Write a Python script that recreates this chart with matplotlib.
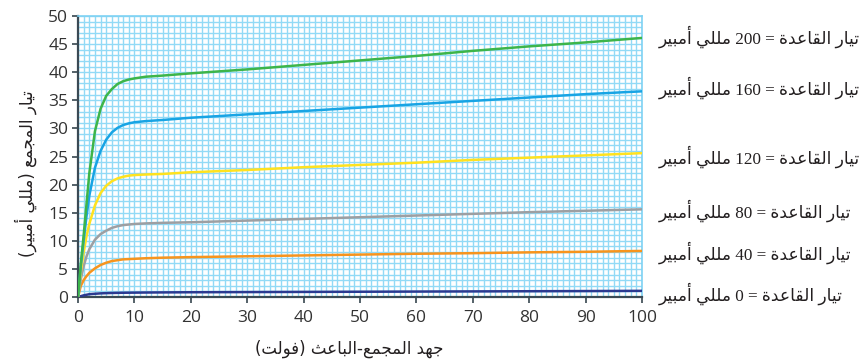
import matplotlib
matplotlib.use("Agg")
import matplotlib.pyplot as plt
import numpy as np

# Collector voltage (V) at which the curves were read
volts = [0, 0.5, 1, 1.5, 2, 3, 4, 5, 6, 7, 8, 9, 10, 12, 15, 20, 30, 40, 50, 60, 70, 80, 90, 100]

# Collector current (mA) for each base current
ic_0 = [0, 0.15, 0.3, 0.4, 0.5, 0.58, 0.65, 0.69, 0.72, 0.74, 0.76, 0.77, 0.78, 0.8, 0.82, 0.85, 0.88, 0.91, 0.94, 0.97, 1.0, 1.03, 1.06, 1.1]
ic_40 = [0, 2.0, 3.0, 3.7, 4.3, 5.1, 5.7, 6.1, 6.4, 6.55, 6.7, 6.75, 6.8, 6.9, 7.0, 7.1, 7.25, 7.4, 7.55, 7.7, 7.8, 7.95, 8.05, 8.2]
ic_80 = [0, 3.2, 5.5, 7.2, 8.5, 10.2, 11.2, 11.8, 12.3, 12.6, 12.8, 12.9, 13.0, 13.1, 13.2, 13.3, 13.6, 13.9, 14.2, 14.5, 14.8, 15.1, 15.35, 15.6]
ic_120 = [0, 4.5, 8.0, 10.8, 13.0, 16.3, 18.5, 19.8, 20.6, 21.1, 21.4, 21.6, 21.7, 21.8, 21.9, 22.2, 22.6, 23.1, 23.5, 23.9, 24.4, 24.8, 25.2, 25.6]
ic_160 = [0, 5.5, 10.0, 14.3, 18.0, 23.0, 26.0, 28.0, 29.3, 30.1, 30.6, 30.9, 31.1, 31.3, 31.5, 31.9, 32.5, 33.1, 33.7, 34.3, 34.9, 35.5, 36.1, 36.6]
ic_200 = [0, 6.0, 11.0, 16.5, 22.0, 29.5, 33.5, 35.8, 37.0, 37.9, 38.4, 38.7, 38.9, 39.2, 39.4, 39.8, 40.5, 41.3, 42.1, 42.9, 43.8, 44.6, 45.3, 46.1]

base_currents = ["0", "40", "80", "120", "160", "200"]
curves = [ic_0, ic_40, ic_80, ic_120, ic_160, ic_200]
colors = ["#2b3990", "#f7941d", "#9d9fa2", "#ffe21f", "#18a4e4", "#3db54a"]
label_y = [0.5, 7.8, 15.3, 25.0, 37.2, 46.3]

# --- minimal Arabic shaping (presentation forms B) ---
FORMS = {  # isolated, final, initial, medial
    "ا": ("\uFE8D", "\uFE8E", None, None),
    "أ": ("\uFE83", "\uFE84", None, None),
    "ب": ("\uFE8F", "\uFE90", "\uFE91", "\uFE92"),
    "ة": ("\uFE93", "\uFE94", None, None),
    "ت": ("\uFE95", "\uFE96", "\uFE97", "\uFE98"),
    "ث": ("\uFE99", "\uFE9A", "\uFE9B", "\uFE9C"),
    "ج": ("\uFE9D", "\uFE9E", "\uFE9F", "\uFEA0"),
    "د": ("\uFEA9", "\uFEAA", None, None),
    "ر": ("\uFEAD", "\uFEAE", None, None),
    "ع": ("\uFEC9", "\uFECA", "\uFECB", "\uFECC"),
    "ف": ("\uFED1", "\uFED2", "\uFED3", "\uFED4"),
    "ق": ("\uFED5", "\uFED6", "\uFED7", "\uFED8"),
    "ل": ("\uFEDD", "\uFEDE", "\uFEDF", "\uFEE0"),
    "م": ("\uFEE1", "\uFEE2", "\uFEE3", "\uFEE4"),
    "ه": ("\uFEE9", "\uFEEA", "\uFEEB", "\uFEEC"),
    "و": ("\uFEED", "\uFEEE", None, None),
    "ي": ("\uFEF1", "\uFEF2", "\uFEF3", "\uFEF4"),
}


def dual(c):
    return c in FORMS and FORMS[c][2] is not None


def shape(text):
    out = []
    for i, c in enumerate(text):
        if c not in FORMS:
            out.append(c)
            continue
        prev = text[i - 1] if i > 0 else ""
        nxt = text[i + 1] if i + 1 < len(text) else ""
        join_prev = dual(prev)
        join_next = dual(c) and nxt in FORMS
        iso, fin, ini, med = FORMS[c]
        if join_prev and join_next:
            out.append(med)
        elif join_prev:
            out.append(fin)
        elif join_next:
            out.append(ini)
        else:
            out.append(iso)
    return "".join(out)


def rtl(text):
    shaped = shape(text)
    runs, cur, digit = [], "", None
    for c in shaped:
        d = c.isdigit()
        if digit is None or d == digit:
            cur += c
        else:
            runs.append((cur, digit))
            cur = c
        digit = d
    runs.append((cur, digit))
    mirror = {"(": ")", ")": "("}
    vis = []
    for run, is_digit in reversed(runs):
        if is_digit:
            vis.append(run)
        else:
            vis.append("".join(mirror.get(c, c) for c in reversed(run)))
    return "".join(vis)


fig = plt.figure(figsize=(8.64, 3.64), dpi=100)
ax = fig.add_axes([0.0903, 0.184, 0.6528, 0.772])

for ic, col in zip(curves, colors):
    ax.plot(volts, ic, color=col, lw=1.8, solid_capstyle="round", zorder=3)

ax.set_xlim(0, 100)
ax.set_ylim(0, 50)
ax.set_xticks(np.arange(0, 101, 10))
ax.set_yticks(np.arange(0, 51, 5))
ax.set_xticks(np.arange(0, 100.1, 1), minor=True)
ax.set_yticks(np.arange(0, 50.1, 1), minor=True)
ax.grid(which="minor", color="#92daf6", lw=1.0, zorder=0)
ax.grid(which="major", color="#92daf6", lw=1.0, zorder=0)
ax.tick_params(which="minor", length=0)
ax.tick_params(which="major", length=4, width=1.2, color="#37474f",
               labelsize=12.5, labelcolor="#333333", pad=3)
ax.tick_params(axis="x", which="major", pad=5)
for lab in ax.get_xticklabels() + ax.get_yticklabels():
    lab.set_family("Open Sans")

for side in ("left", "bottom"):
    ax.spines[side].set_color("#3a4a55")
    ax.spines[side].set_linewidth(1.6)
for side in ("top", "right"):
    ax.spines[side].set_color("#7fd2f3")
    ax.spines[side].set_linewidth(1.2)

ar_font = ["Liberation Serif", "DejaVu Sans"]
for base, y in zip(base_currents, label_y):
    txt = rtl("تيار القاعدة = " + base + " مللي أمبير")
    ax.text(1.03, y, txt, transform=ax.get_yaxis_transform(), ha="left", va="center",
            fontsize=12.3, family=ar_font, color="#231f20")

ax.set_xlabel(rtl("جهد المجمع-الباعث (فولت)"), family=["DejaVu Sans"], fontsize=12,
              color="#231f20")
ax.set_ylabel(rtl("تيار المجمع (مللي أمبير)"), family=["DejaVu Sans"], fontsize=12,
              color="#231f20")
ax.xaxis.set_label_coords(0.48, -0.15)
ax.yaxis.set_label_coords(-0.072, 0.44)

fig.savefig("out.png", dpi=100)
